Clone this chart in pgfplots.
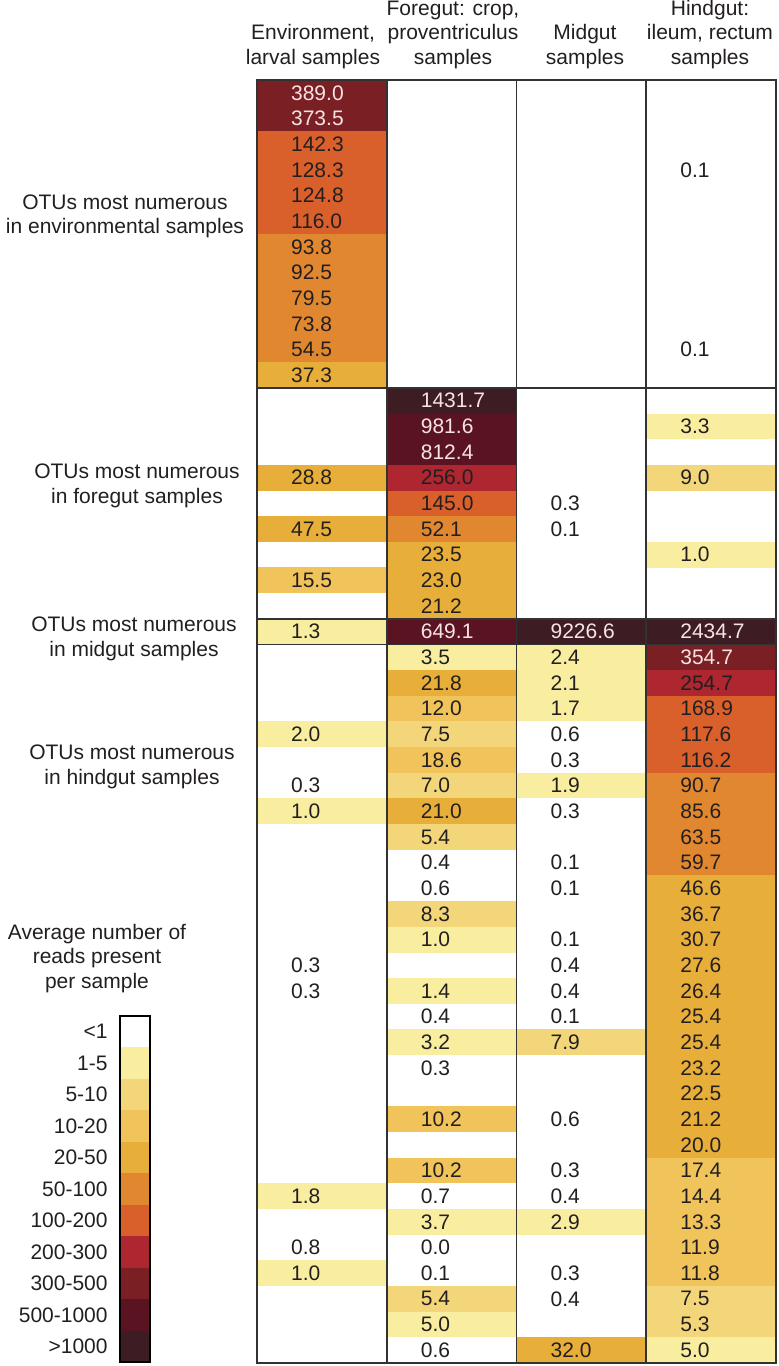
\documentclass[border=0pt]{standalone}
\usepackage{fontspec}
\setmainfont{Liberation Sans}
\usepackage{pgfplots}
\usepackage{pgfplotstable}
\pgfplotsset{compat=1.18}

\definecolor{txt}{RGB}{35,31,32}
\definecolor{txtw}{RGB}{246,228,228}
\definecolor{gridc}{RGB}{50,50,50}
\definecolor{c0}{RGB}{255,255,255}
\definecolor{c1}{RGB}{249,238,160}
\definecolor{c2}{RGB}{244,214,122}
\definecolor{c3}{RGB}{240,196,90}
\definecolor{c4}{RGB}{232,174,58}
\definecolor{c5}{RGB}{225,135,48}
\definecolor{c6}{RGB}{218,96,43}
\definecolor{c7}{RGB}{174,38,48}
\definecolor{c8}{RGB}{122,32,36}
\definecolor{c9}{RGB}{90,20,33}
\definecolor{c10}{RGB}{62,28,36}

% one cell of the table: 1/4 of the width, 1/50 of the height
\pgfdeclareplotmark{cell}{%
  \pgfpathrectangle{\pgfpoint{-32.5pt}{-6.45pt}}{\pgfpoint{65pt}{12.9pt}}%
  \pgfusepathqfill}

% r = row (1..50, top down), c = column (0 env, 1 foregut, 2 midgut, 3 hindgut)
% k = class of the legend (0 <1 ... 10 >1000), v = printed value
\pgfplotstableread{
r c k v
1 0 8 389.0
2 0 8 373.5
3 0 6 142.3
4 0 6 128.3
5 0 6 124.8
6 0 6 116.0
7 0 5 93.8
8 0 5 92.5
9 0 5 79.5
10 0 5 73.8
11 0 5 54.5
12 0 4 37.3
4 3 0 0.1
11 3 0 0.1
16 0 4 28.8
18 0 4 47.5
20 0 3 15.5
13 1 10 1431.7
14 1 9 981.6
15 1 9 812.4
16 1 7 256.0
17 1 6 145.0
18 1 5 52.1
19 1 4 23.5
20 1 4 23.0
21 1 4 21.2
17 2 0 0.3
18 2 0 0.1
14 3 1 3.3
16 3 2 9.0
19 3 1 1.0
22 0 1 1.3
22 1 9 649.1
22 2 10 9226.6
22 3 10 2434.7
23 1 1 3.5
23 2 1 2.4
23 3 8 354.7
24 1 4 21.8
24 2 1 2.1
24 3 7 254.7
25 1 3 12.0
25 2 1 1.7
25 3 6 168.9
26 0 1 2.0
26 1 2 7.5
26 2 0 0.6
26 3 6 117.6
27 1 3 18.6
27 2 0 0.3
27 3 6 116.2
28 0 0 0.3
28 1 2 7.0
28 2 1 1.9
28 3 5 90.7
29 0 1 1.0
29 1 4 21.0
29 2 0 0.3
29 3 5 85.6
30 1 2 5.4
30 3 5 63.5
31 1 0 0.4
31 2 0 0.1
31 3 5 59.7
32 1 0 0.6
32 2 0 0.1
32 3 4 46.6
33 1 2 8.3
33 3 4 36.7
34 1 1 1.0
34 2 0 0.1
34 3 4 30.7
35 0 0 0.3
35 2 0 0.4
35 3 4 27.6
36 0 0 0.3
36 1 1 1.4
36 2 0 0.4
36 3 4 26.4
37 1 0 0.4
37 2 0 0.1
37 3 4 25.4
38 1 1 3.2
38 2 2 7.9
38 3 4 25.4
39 1 0 0.3
39 3 4 23.2
40 3 4 22.5
41 1 3 10.2
41 2 0 0.6
41 3 4 21.2
42 3 4 20.0
43 1 3 10.2
43 2 0 0.3
43 3 3 17.4
44 0 1 1.8
44 1 0 0.7
44 2 0 0.4
44 3 3 14.4
45 1 1 3.7
45 2 1 2.9
45 3 3 13.3
46 0 0 0.8
46 1 0 0.0
46 3 3 11.9
47 0 1 1.0
47 1 0 0.1
47 2 0 0.3
47 3 3 11.8
48 1 2 5.4
48 2 0 0.4
48 3 2 7.5
49 1 1 5.0
49 3 2 5.3
50 1 0 0.6
50 2 4 32.0
50 3 1 5.0
}\cells

\begin{document}
\begin{tikzpicture}[font=\fontsize{10.5pt}{12.5pt}\selectfont, text=txt]
\useasboundingbox (0,0) rectangle (389.5pt,683pt);

\begin{axis}[
  at={(128.5pt,1.5pt)}, anchor=south west,
  width=259.5pt, height=641.5pt, scale only axis,
  xmin=0, xmax=4, ymin=0, ymax=50, y dir=reverse,
  hide axis, clip=false,
  unbounded coords=discard,
  value label/.style={only marks, mark=none, point meta=explicit symbolic,
    nodes near coords,
    every node near coord/.append style={anchor=west, inner sep=0pt}},
]
% coloured cells
\addplot[scatter, only marks, mark=cell, point meta=explicit symbolic,
  scatter/classes={0={draw=none,fill=c0}, 1={draw=none,fill=c1},
    2={draw=none,fill=c2}, 3={draw=none,fill=c3}, 4={draw=none,fill=c4},
    5={draw=none,fill=c5}, 6={draw=none,fill=c6}, 7={draw=none,fill=c7},
    8={draw=none,fill=c8}, 9={draw=none,fill=c9}, 10={draw=none,fill=c10}}]
  table[x expr=\thisrow{c}+0.5, y expr=\thisrow{r}-0.5, meta=k] {\cells};
% printed values, dark on light cells
\addplot[value label, every node near coord/.append style={text=txt}]
  table[x expr={\thisrow{k}>7 ? nan : \thisrow{c}+0.26},
        y expr=\thisrow{r}-0.5, meta=v] {\cells};
% printed values, light on dark cells
\addplot[value label, every node near coord/.append style={text=txtw}]
  table[x expr={\thisrow{k}>7 ? \thisrow{c}+0.26 : nan},
        y expr=\thisrow{r}-0.5, meta=v] {\cells};
\end{axis}

% table rules on top of the cells: axis is 259.5pt x 641.5pt from (128.5pt,1.5pt)
\begin{scope}[gridc, line width=0.9pt]
\foreach \i in {1,2,3}
  \draw ({128.5pt+\i*64.875pt},1.5pt) -- ({128.5pt+\i*64.875pt},643pt);
\foreach \r in {12,21,22}
  \draw (128.5pt,{643pt-\r*12.83pt}) -- (388pt,{643pt-\r*12.83pt});
\draw (128.5pt,1.5pt) rectangle (388pt,643pt);
\end{scope}

% column headers
\node[anchor=base] at (156.5pt,663pt) {Environment,};
\node[anchor=base] at (156.5pt,650.5pt) {larval samples};
\node[anchor=base] at (226.5pt,675pt) {Foregut: crop,};
\node[anchor=base] at (226.5pt,663pt) {proventriculus};
\node[anchor=base] at (226.5pt,650.5pt) {samples};
\node[anchor=base] at (292.5pt,663pt) {Midgut};
\node[anchor=base] at (292.5pt,650.5pt) {samples};
\node[anchor=base] at (355pt,675pt) {Hindgut:};
\node[anchor=base] at (355pt,663pt) {ileum, rectum};
\node[anchor=base] at (355pt,650.5pt) {samples};

% row group labels
\node[anchor=base] at (62.5pt,578pt) {OTUs most numerous};
\node[anchor=base] at (62.5pt,566pt) {in environmental samples};
\node[anchor=base] at (68.5pt,443.5pt) {OTUs most numerous};
\node[anchor=base] at (68.5pt,431pt) {in foregut samples};
\node[anchor=base] at (67pt,367pt) {OTUs most numerous};
\node[anchor=base] at (67pt,354.5pt) {in midgut samples};
\node[anchor=base] at (66pt,303pt) {OTUs most numerous};
\node[anchor=base] at (66pt,290.5pt) {in hindgut samples};

% legend
\node[anchor=base] at (48.5pt,213pt) {Average number of};
\node[anchor=base] at (48.5pt,201pt) {reads present};
\node[anchor=base] at (48.5pt,188.5pt) {per sample};
\foreach \i/\lab in {0/{<1},1/{1-5},2/{5-10},3/{10-20},4/{20-50},5/{50-100},
    6/{100-200},7/{200-300},8/{300-500},9/{500-1000},10/{>1000}} {
  \fill[c\i] (60pt,{175pt-\i*15.727pt}) rectangle (75pt,{175pt-(\i+1)*15.727pt});
  \node[anchor=east, inner sep=0pt] at (54pt,{175pt-(\i+0.5)*15.727pt}) {\lab};
}
\draw[black, line width=0.7pt] (60pt,2pt) rectangle (75pt,175pt);
\end{tikzpicture}
\end{document}
